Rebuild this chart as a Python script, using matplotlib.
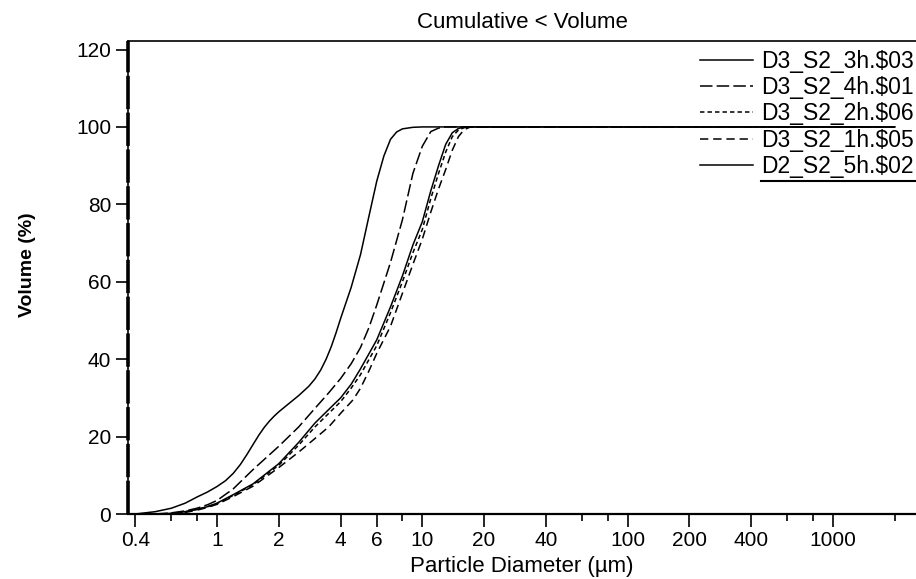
import matplotlib
matplotlib.use("Agg")
import matplotlib.pyplot as plt
from matplotlib.lines import Line2D
from matplotlib.ticker import FixedLocator, NullFormatter

plt.rcParams['font.family'] = ['Liberation Sans', 'DejaVu Sans']
plt.rcParams['lines.scale_dashes'] = False

# particle diameter (um) and cumulative volume (%)
d_5h = [0.4, 0.5, 0.6, 0.7, 0.8, 0.9, 1.0, 1.1, 1.2, 1.3, 1.4, 1.5, 1.6, 1.7, 1.8,
        1.9, 2.0, 2.2, 2.5, 2.8, 3.0, 3.2, 3.4, 3.6, 3.8, 4.0, 4.5, 5.0, 5.5, 6.0,
        6.5, 7.0, 7.5, 8.0, 9.0, 10, 2000]
v_5h = [0, 0.6, 1.5, 2.8, 4.4, 5.7, 7.1, 8.6, 10.5, 12.8, 15.4, 18.0, 20.4, 22.4, 24.0,
        25.3, 26.4, 28.2, 30.6, 33, 34.9, 37.2, 40, 43.2, 46.8, 50.5, 58.5, 67, 77, 86,
        92.5, 96.8, 98.7, 99.5, 99.9, 100, 100]

d_4h = [0.5, 0.6, 0.7, 0.8, 0.9, 1.0, 1.2, 1.5, 2.0, 2.5, 3.0, 3.5, 4.0, 4.5, 5.0,
        5.5, 6.0, 7.0, 8.0, 9.0, 10, 11, 12, 13, 2000]
v_4h = [0, 0.3, 0.8, 1.5, 2.4, 3.5, 6.5, 11.5, 17.5, 22.5, 27.3, 31.3, 35, 38.8, 43,
        48.2, 54, 65, 76, 88, 95, 98.8, 99.7, 100, 100]

d_3h = [0.55, 0.6, 0.7, 0.8, 0.9, 1.0, 1.2, 1.5, 2.0, 2.5, 3.0, 3.5, 4.0, 4.5, 5.0,
        6.0, 7.0, 8.0, 9.0, 10, 11, 12, 13, 14, 15, 16, 2000]
v_3h = [0, 0.2, 0.6, 1.2, 1.9, 2.8, 5.0, 7.8, 13, 18.5, 23.5, 27, 30, 33.5, 37.5,
        45, 53.5, 61.5, 69.5, 75.5, 83.5, 90, 95.5, 98.5, 99.6, 100, 100]

d_2h = [0.55, 0.6, 0.7, 0.8, 0.9, 1.0, 1.2, 1.5, 2.0, 2.5, 3.0, 3.5, 4.0, 4.5, 5.0,
        6.0, 7.0, 8.0, 9.0, 10, 11, 12, 13, 14, 15, 16, 17, 2000]
v_2h = [0, 0.2, 0.6, 1.2, 1.9, 2.7, 4.8, 7.6, 12.6, 17.8, 22.5, 26, 29, 32.5, 36,
        43.5, 52, 60, 67.5, 73.5, 81.5, 88, 93.5, 97.5, 99.2, 99.8, 100, 100]

d_1h = [0.6, 0.7, 0.8, 0.9, 1.0, 1.2, 1.5, 2.0, 2.5, 3.0, 3.5, 4.0, 4.6, 5.0, 5.5,
        6.0, 7.0, 8.0, 9.0, 10, 11, 12, 13, 14, 15, 16, 17, 18, 2000]
v_1h = [0, 0.4, 1.0, 1.7, 2.5, 4.5, 7.2, 12, 16, 19.5, 22.5, 26, 29.5, 32.5, 37,
        41.5, 48.5, 57, 64.5, 71, 78, 84, 89, 94, 97.5, 99.3, 99.9, 100, 100]

labels = ['D3_S2_3h.$03', 'D3_S2_4h.$01', 'D3_S2_2h.$06', 'D3_S2_1h.$05', 'D2_S2_5h.$02']

x_major = [0.4, 1, 2, 4, 6, 10, 20, 40, 100, 200, 400, 1000]
x_minor = [0.6, 0.8, 8, 60, 80, 600, 800, 2000]
y_ticks = [0, 20, 40, 60, 80, 100, 120]

fig = plt.figure(figsize=(9.16, 5.79), dpi=100)
ax = fig.add_axes([128 / 916, 1 - 514 / 579, 788 / 916, 473 / 579])

lw = 1.1
ax.plot(d_3h, v_3h, color='black', lw=lw, label=labels[0])
ax.plot(d_4h, v_4h, color='black', lw=lw, dashes=(9, 3), label=labels[1])
ax.plot(d_2h, v_2h, color='black', lw=lw, dashes=(3.2, 2.2), label=labels[2])
ax.plot(d_1h, v_1h, color='black', lw=lw, dashes=(6, 3.5), label=labels[3])
ax.plot(d_5h, v_5h, color='black', lw=lw, label=labels[4])

ax.set_xscale('log')
ax.set_xlim(0.3685, 2540)
ax.set_ylim(0, 122.2)

ax.xaxis.set_major_locator(FixedLocator(x_major))
ax.xaxis.set_minor_locator(FixedLocator(x_minor))
ax.set_xticklabels([str(v) for v in x_major])
ax.xaxis.set_minor_formatter(NullFormatter())
ax.set_yticks(y_ticks)

ax.tick_params(axis='both', which='major', direction='out', length=9, width=1.2,
               labelsize=15, pad=3)
ax.tick_params(axis='x', which='minor', direction='out', length=5, width=1.2)

for s in ['left', 'bottom', 'top']:
    ax.spines[s].set_linewidth(1.2)
ax.spines['bottom'].set_linewidth(1.6)
ax.spines['right'].set_visible(False)

# dashed overlay hugging the left axis
ax.axvline(ax.get_xlim()[0], color='black', lw=2.6, dashes=(24, 2.5), clip_on=False)

ax.set_title('Cumulative < Volume', fontsize=16, pad=9)
ax.set_xlabel('Particle Diameter (\u00b5m)', fontsize=16)
ax.xaxis.set_label_coords(0.5, -0.088)
ax.set_ylabel('Volume (%)', fontsize=14, fontweight='bold')
ax.yaxis.set_label_coords(-0.117, 0.528)

leg = ax.legend(loc='upper left', bbox_to_anchor=(700 / 916, 1 - 50 / 579),
                bbox_transform=fig.transFigure, frameon=False, fontsize=16.5,
                handlelength=2.3, handletextpad=0.38, labelspacing=0.14,
                borderpad=0, borderaxespad=0)
fig.add_artist(Line2D([761 / 916, 1.0], [1 - 181 / 579, 1 - 181 / 579],
                      transform=fig.transFigure, color='black', lw=1.5))

fig.savefig('out.png', dpi=100)
